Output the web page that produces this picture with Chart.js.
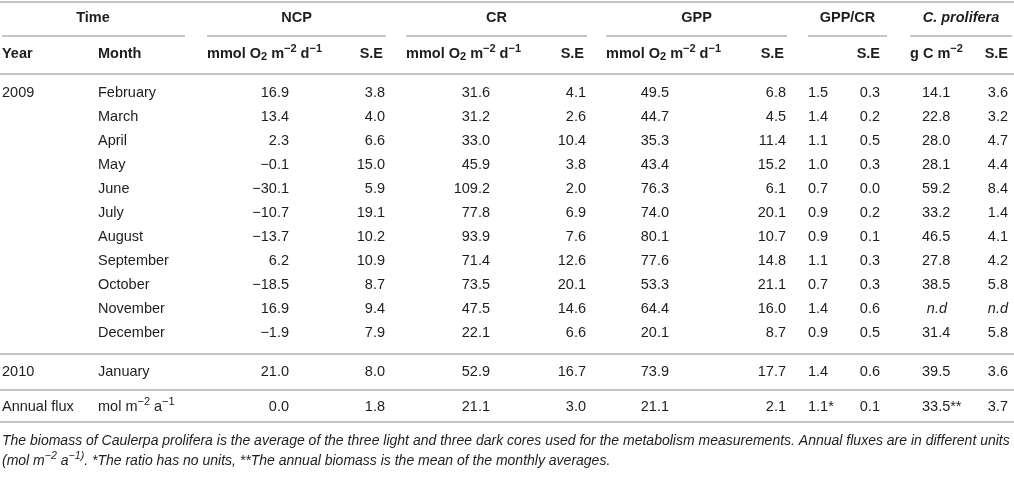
<!DOCTYPE html>
<html>
<head>
<meta charset="utf-8">
<script src="https://cdn.jsdelivr.net/npm/chart.js@4.4.1/dist/chart.umd.min.js"></script>
<style>
  html, body { margin: 0; padding: 0; background: #fff; }
  #wrap { width: 1014px; height: 480px; }
</style>
</head>
<body>
<div id="wrap"><canvas id="table" width="1014" height="480"></canvas></div>
<script>
// table data
const years = ['2009', '2010'];
const months = ['February', 'March', 'April', 'May', 'June', 'July', 'August',
    'September', 'October', 'November', 'December', 'January'];
const ncp = [16.9, 13.4, 2.3, -0.1, -30.1, -10.7, -13.7, 6.2, -18.5, 16.9, -1.9, 21.0];
const ncpSE = [3.8, 4.0, 6.6, 15.0, 5.9, 19.1, 10.2, 10.9, 8.7, 9.4, 7.9, 8.0];
const cr = [31.6, 31.2, 33.0, 45.9, 109.2, 77.8, 93.9, 71.4, 73.5, 47.5, 22.1, 52.9];
const crSE = [4.1, 2.6, 10.4, 3.8, 2.0, 6.9, 7.6, 12.6, 20.1, 14.6, 6.6, 16.7];
const gpp = [49.5, 44.7, 35.3, 43.4, 76.3, 74.0, 80.1, 77.6, 53.3, 64.4, 20.1, 73.9];
const gppSE = [6.8, 4.5, 11.4, 15.2, 6.1, 20.1, 10.7, 14.8, 21.1, 16.0, 8.7, 17.7];
const ratio = [1.5, 1.4, 1.1, 1.0, 0.7, 0.9, 0.9, 1.1, 0.7, 1.4, 0.9, 1.4];
const ratioSE = [0.3, 0.2, 0.5, 0.3, 0.0, 0.2, 0.1, 0.3, 0.3, 0.6, 0.5, 0.6];
const biomass = [14.1, 22.8, 28.0, 28.1, 59.2, 33.2, 46.5, 27.8, 38.5, null, 31.4, 39.5];
const biomassSE = [3.6, 3.2, 4.7, 4.4, 8.4, 1.4, 4.1, 4.2, 5.8, null, 5.8, 3.6];
const annual = [0.0, 1.8, 21.1, 3.0, 21.1, 2.1, 1.1, 0.1, 33.5, 3.7];
const annualMarks = ['', '', '', '', '', '', '*', '', '**', ''];
const groups = ['NCP', 'CR', 'GPP', 'GPP/CR', 'C. prolifera'];

const FAMILY = '"Liberation Sans", Arial, sans-serif';
const INK = '#1e1e1e';
const RULE = '#c6c6c6';
const SIZE = 14.5;

// layout (pixel units of the hidden linear scales)
const columns = [
    { data: ncp, x: 289, align: 'right' },
    { data: ncpSE, x: 385, align: 'right' },
    { data: cr, x: 490, align: 'right' },
    { data: crSE, x: 586, align: 'right' },
    { data: gpp, x: 669, align: 'right' },
    { data: gppSE, x: 786, align: 'right' },
    { data: ratio, x: 808, align: 'left' },
    { data: ratioSE, x: 880, align: 'right' },
    { data: biomass, x: 922, align: 'left' },
    { data: biomassSE, x: 1008, align: 'right' }
];
const groupSpans = [[207, 386], [406, 587], [606, 787], [808, 887], [910, 1012]];
const rowY = i => i < 11 ? 93 + i * 24 : 372;
const annualY = 407;

const fmt = v => v.toFixed(1).replace('-', '\u2212');

// text with super/subscripts: segs = [[text, 'sup'|'sub'|''], ...]
function drawRich(ctx, segs, x, y, align, size, weight, style) {
    const small = size * 0.76;
    const fontFor = k => `${style || ''} ${weight || ''} ${k ? small : size}px ${FAMILY}`;
    let total = 0;
    segs.forEach(([t, k]) => { ctx.font = fontFor(k); total += ctx.measureText(t).width; });
    let cx = align === 'right' ? x - total : align === 'center' ? x - total / 2 : x;
    ctx.textAlign = 'left';
    ctx.textBaseline = 'middle';
    segs.forEach(([t, k]) => {
        ctx.font = fontFor(k);
        const dy = k === 'sup' ? -size * 0.33 : k === 'sub' ? size * 0.22 : 0;
        ctx.fillText(t, cx, y + dy);
        cx += ctx.measureText(t).width;
    });
}

const unitO2 = [['mmol O', ''], ['2', 'sub'], [' m', ''], ['\u22122', 'sup'], [' d', ''], ['\u22121', 'sup']];

const tablePlugin = {
    id: 'tableCells',
    afterDraw(chart) {
        const ctx = chart.ctx;
        const sx = chart.scales.x, sy = chart.scales.y;
        const X = v => sx.getPixelForValue(v);
        const Y = v => sy.getPixelForValue(v);
        ctx.save();
        ctx.fillStyle = INK;

        // rules
        ctx.strokeStyle = RULE;
        ctx.lineWidth = 2;
        const hline = (x0, x1, y) => { ctx.beginPath(); ctx.moveTo(X(x0), Y(y)); ctx.lineTo(X(x1), Y(y)); ctx.stroke(); };
        [2, 74, 354, 390, 422].forEach(y => hline(0, 1014, y));
        hline(2, 185, 36);
        groupSpans.forEach(([a, b]) => hline(a, b, 36));

        // header row 1
        drawRich(ctx, [['Time', '']], X(93), Y(18), 'center', SIZE, 'bold');
        groups.forEach((g, i) => {
            const c = (groupSpans[i][0] + groupSpans[i][1]) / 2;
            drawRich(ctx, [[g, '']], X(c), Y(18), 'center', SIZE, 'bold', i === 4 ? 'italic' : '');
        });

        // header row 2
        drawRich(ctx, [['Year', '']], X(2), Y(54), 'left', SIZE, 'bold');
        drawRich(ctx, [['Month', '']], X(98), Y(54), 'left', SIZE, 'bold');
        [0, 1, 2].forEach(i => {
            drawRich(ctx, unitO2, X(groupSpans[i][0]), Y(54), 'left', SIZE, 'bold');
            drawRich(ctx, [['S.E', '']], X(columns[i * 2 + 1].x - 2), Y(54), 'right', SIZE, 'bold');
        });
        drawRich(ctx, [['S.E', '']], X(columns[7].x), Y(54), 'right', SIZE, 'bold');
        drawRich(ctx, [['g C m', ''], ['\u22122', 'sup']], X(910), Y(54), 'left', SIZE, 'bold');
        drawRich(ctx, [['S.E', '']], X(columns[9].x), Y(54), 'right', SIZE, 'bold');

        // body
        drawRich(ctx, [[years[0], '']], X(2), Y(rowY(0)), 'left', SIZE);
        drawRich(ctx, [[years[1], '']], X(2), Y(rowY(11)), 'left', SIZE);
        months.forEach((m, i) => drawRich(ctx, [[m, '']], X(98), Y(rowY(i)), 'left', SIZE));
        columns.forEach((col, ci) => {
            col.data.forEach((v, i) => {
                if (v === null) {
                    const nx = ci === 8 ? 947 : col.x;
                    drawRich(ctx, [['n.d', '']], X(nx), Y(rowY(i)), 'right', SIZE, '', 'italic');
                } else {
                    drawRich(ctx, [[fmt(v), '']], X(col.x), Y(rowY(i)), col.align, SIZE);
                }
            });
            drawRich(ctx, [[fmt(annual[ci]) + annualMarks[ci], '']], X(col.x), Y(annualY), col.align, SIZE);
        });
        drawRich(ctx, [['Annual flux', '']], X(2), Y(annualY), 'left', SIZE);
        drawRich(ctx, [['mol m', ''], ['\u22122', 'sup'], [' a', ''], ['\u22121', 'sup']], X(98), Y(annualY), 'left', SIZE);

        // footnote
        drawRich(ctx, [['The biomass of Caulerpa prolifera is the average of the three light and three dark cores used for the metabolism measurements. Annual fluxes are in different units', '']],
            X(2), Y(441), 'left', 14, '', 'italic');
        drawRich(ctx, [['(mol m', ''], ['\u22122', 'sup'], [' a', ''], ['\u22121)', 'sup'],
            ['. *The ratio has no units, **The annual biomass is the mean of the monthly averages.', '']],
            X(2), Y(461), 'left', 14, '', 'italic');
        ctx.restore();
    }
};

new Chart(document.getElementById('table'), {
    type: 'scatter',
    data: {
        datasets: columns.map(col => ({
            data: col.data.map((v, i) => ({ x: col.x, y: rowY(i) })),
            pointRadius: 0
        }))
    },
    options: {
        responsive: false,
        animation: false,
        events: [],
        layout: { padding: 0 },
        scales: {
            x: { type: 'linear', min: 0, max: 1014, display: false },
            y: { type: 'linear', min: 0, max: 480, reverse: true, display: false }
        },
        plugins: {
            legend: { display: false },
            tooltip: { enabled: false }
        }
    },
    plugins: [tablePlugin]
});
</script>
</body>
</html>
